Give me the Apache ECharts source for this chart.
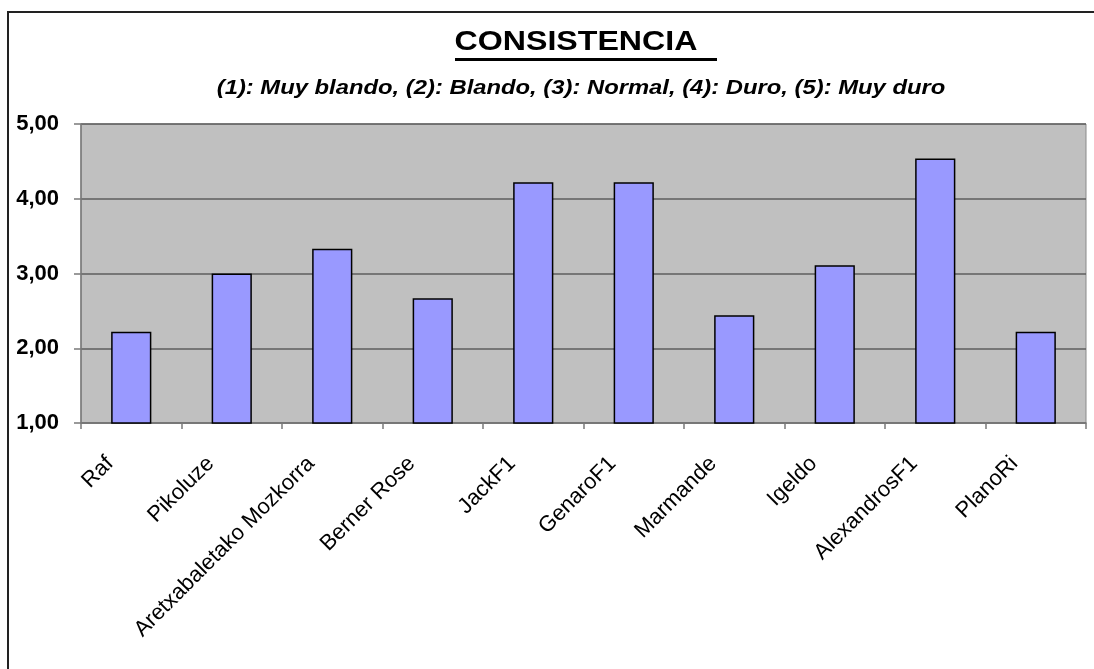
<!DOCTYPE html>
<html>
<head>
<meta charset="utf-8">
<script src="https://cdn.jsdelivr.net/npm/echarts@6/dist/echarts.min.js"></script>
<style>
  html, body { margin: 0; padding: 0; background: #fff; }
  #chart { width: 1094px; height: 669px; }
</style>
</head>
<body>
<div id="chart"></div>
<script>
// datos
var titulo = "CONSISTENCIA";
var subtitulo = "(1): Muy blando, (2): Blando, (3): Normal, (4): Duro, (5): Muy duro";
var variedades = ["Raf", "Pikoluze", "Aretxabaletako Mozkorra", "Berner Rose", "JackF1",
  "GenaroF1", "Marmande", "Igeldo", "AlexandrosF1", "PlanoRi"];
var consistencia = [2.22, 3.00, 3.33, 2.67, 4.22, 4.22, 2.44, 3.11, 4.54, 2.22];
var ejeMin = 1;
var ejeMax = 5;
var ejeIntervalo = 1;

var fuente = "Liberation Sans, Arial, sans-serif";
var chart = echarts.init(document.getElementById("chart"));

var option = {
  backgroundColor: "#ffffff",
  animation: false,
  textStyle: { fontFamily: fuente },
  graphic: [
    {
      // marco exterior
      type: "rect",
      shape: { x: 8, y: 12, width: 1100, height: 700 },
      style: { fill: "none", stroke: "#222", lineWidth: 2 },
      silent: true
    },
    {
      type: "text",
      x: 576,
      y: 43,
      scaleX: 1.19,
      style: {
        text: titulo,
        x: 0,
        y: 0,
        align: "center",
        verticalAlign: "middle",
        font: "bold 27px " + fuente,
        fill: "#000"
      },
      silent: true
    },
    {
      // subrayado del titulo
      type: "line",
      shape: { x1: 455, y1: 59.5, x2: 717, y2: 59.5 },
      style: { stroke: "#000", lineWidth: 3 },
      silent: true
    },
    {
      type: "text",
      x: 581,
      y: 88,
      scaleX: 1.19,
      style: {
        text: subtitulo,
        x: 0,
        y: 0,
        align: "center",
        verticalAlign: "middle",
        font: "italic bold 20px " + fuente,
        fill: "#000"
      },
      silent: true
    }
  ],
  grid: {
    left: 81,
    right: 8,
    top: 124,
    bottom: 246,
    containLabel: false,
    outerBoundsMode: "none",
    show: true,
    backgroundColor: "#c0c0c0",
    borderColor: "#8a8a8a",
    borderWidth: 1
  },
  xAxis: {
    type: "category",
    data: variedades,
    axisLine: { lineStyle: { color: "#7a7a7a", width: 1.5 } },
    axisTick: { show: true, length: 6, lineStyle: { color: "#7a7a7a", width: 1.5 } },
    axisLabel: {
      rotate: 45,
      interval: 0,
      margin: 16,
      padding: [0, 30, 0, 0],
      fontSize: 22,
      color: "#000",
      fontFamily: fuente
    }
  },
  yAxis: {
    type: "value",
    min: ejeMin,
    max: ejeMax,
    interval: ejeIntervalo,
    axisLine: { show: true, lineStyle: { color: "#7a7a7a", width: 1.5 } },
    axisTick: { show: true, length: 7, lineStyle: { color: "#7a7a7a", width: 1.5 } },
    splitLine: { show: true, lineStyle: { color: "#5e5e5e", width: 1.5 } },
    axisLabel: {
      fontSize: 22,
      fontWeight: "bold",
      color: "#000",
      margin: 22,
      formatter: function (v) {
        return v.toFixed(2).replace(".", ",");
      }
    }
  },
  series: [
    {
      type: "bar",
      data: consistencia,
      barCategoryGap: "60%",
      itemStyle: { color: "#9999ff", borderColor: "#000", borderWidth: 1.5 }
    }
  ]
};

chart.setOption(option);
</script>
</body>
</html>
